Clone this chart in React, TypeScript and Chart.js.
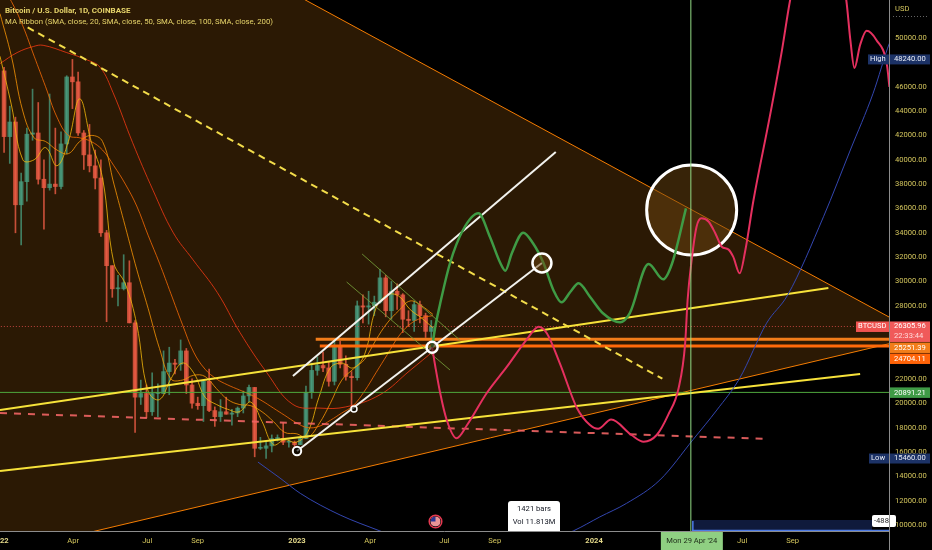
import React, { useEffect, useRef } from 'react';
import { Chart, registerables } from 'chart.js';

Chart.register(...registerables);

const W = 932;
const H = 550;

// ---------- candles (weekly, week start Monday) ----------
const WEEKS = [
  '2022-01-03','2022-01-10','2022-01-17','2022-01-24','2022-01-31','2022-02-07','2022-02-14','2022-02-21','2022-02-28','2022-03-07',
  '2022-03-14','2022-03-21','2022-03-28','2022-04-04','2022-04-11','2022-04-18','2022-04-25','2022-05-02','2022-05-09','2022-05-16',
  '2022-05-23','2022-05-30','2022-06-06','2022-06-13','2022-06-20','2022-06-27','2022-07-04','2022-07-11','2022-07-18','2022-07-25',
  '2022-08-01','2022-08-08','2022-08-15','2022-08-22','2022-08-29','2022-09-05','2022-09-12','2022-09-19','2022-09-26','2022-10-03',
  '2022-10-10','2022-10-17','2022-10-24','2022-10-31','2022-11-07','2022-11-14','2022-11-21','2022-11-28','2022-12-05','2022-12-12',
  '2022-12-19','2022-12-26','2023-01-02','2023-01-09','2023-01-16','2023-01-23','2023-01-30','2023-02-06','2023-02-13','2023-02-20',
  '2023-02-27','2023-03-06','2023-03-13','2023-03-20','2023-03-27','2023-04-03','2023-04-10','2023-04-17','2023-04-24','2023-05-01',
  '2023-05-08','2023-05-15','2023-05-22','2023-05-29','2023-06-05','2023-06-12',
];
const OPEN = [47300,41900,43100,36300,38200,42100,42200,38400,37700,38000,37800,41300,46800,46400,42200,40400,39500,38500,34000,31300,29400,29400,29900,26600,20500,20800,19300,20800,20800,22600,23300,23200,24300,21500,20000,19800,21800,19400,18900,19300,19100,19200,19600,20600,21300,16300,16300,16500,17100,17100,16800,16800,16600,17100,20900,22700,23100,22900,21800,24600,23200,22200,22100,28000,27900,28000,28300,30300,27600,29200,28900,26900,26800,28100,27200,25900];
const HIGH = [47600,44400,43500,38900,42600,45800,44700,40000,45400,42600,42300,46900,48240,47200,42400,42900,40800,40000,34200,31300,30500,32200,31700,26800,21900,21500,22500,21600,24300,24600,23600,25200,24500,22000,20500,21900,22800,19700,20300,20500,19500,19700,21000,21500,21300,17200,16800,17400,17400,18400,17000,16900,17200,21400,23300,23800,24200,23400,25200,25100,23900,22600,28400,28900,29200,28800,31000,30500,30000,29800,29000,27600,28400,28400,27400,26800];
const LOW = [40600,39700,34000,33000,36600,41600,38000,34300,37500,37200,37600,40500,44200,42000,39200,39000,37600,33700,26700,28700,28000,29300,26600,17600,19900,18800,19000,18900,20800,20700,22400,22700,20800,19600,19500,18500,19300,18100,18500,19100,18200,18900,19200,20100,15600,16200,15460,16000,16900,16600,16400,16400,16600,17100,20400,22300,22600,21400,21500,22900,21900,19600,21900,26600,26500,27200,28200,27100,26900,27700,25800,26300,25900,26600,25400,24800];
const CLOSE = [41900,43100,36300,38200,42100,42200,38400,37700,38000,37800,41300,46800,46400,42200,40400,39500,38500,34000,31300,29400,29400,29900,26600,20500,20800,19300,20800,20800,22600,23300,23200,24300,21500,20000,19800,21800,19400,18900,19300,19100,19200,19600,20600,21300,16300,16300,16500,17100,17100,16800,16800,16600,17100,20900,22700,23100,22900,21800,24600,23200,22200,22100,28000,27900,28000,28300,30300,27600,29200,28900,26900,26800,28100,27200,25900,26305.96];

// ---------- MA ribbon (days since 2022-01-01) ----------
const MA_DAYS = [0,14,28,42,56,70,84,98,112,126,140,154,168,182,196,210,224,238,252,266,280,294,308,322,336,350,364,378,392,406,420,434,448,462,476,490,504,518,532];
const SMA20 = [48500,44500,40000,40000,41000,39500,41500,45000,41500,38500,31500,29800,26500,21000,20300,22000,23300,22500,20500,19900,19500,19300,20100,18500,16600,17000,16800,17600,20500,22900,23300,22900,24000,27800,28900,28800,27700,27000,26200];
const SMA50 = [52000,48500,44000,41800,41500,40800,40500,41500,42000,41500,38000,34500,31000,27800,24500,22000,21900,22300,22200,21200,20300,19900,19800,19300,18500,17600,17500,17200,18300,20000,21900,22800,23600,25200,26600,27600,28400,28000,27300];
const SMA100 = [54500,53000,51000,48500,46000,43500,42000,41800,41500,40800,39500,38000,36200,33800,31500,29000,26500,24200,22800,22000,21500,21100,20700,20200,19600,19000,18400,18000,18100,18600,19200,19800,21000,22500,24000,25500,26500,27000,27200];
const SMA200_DAYS = [0,21,41,53,82,107,123,139,163,188,213,237,267,295,328,360,393,425,467,504,535];
const SMA200 = [47900,48800,49300,49400,48800,48200,47600,45500,41400,37500,34000,31800,29100,25800,22500,19900,19600,19700,20700,22700,24400];

// ---------- drawings (day, price) ----------
const TRI_UPPER_DAYS = [-20, 1100];
const TRI_UPPER = [67470, 26813];
const TRI_LOWER_DAYS = [-20, 1100];
const TRI_LOWER = [7339, 25006];

const YEL_DASH_DAYS = [34, 814];
const YEL_DASH = [50871, 22016];
const YEL_UP_DAYS = [0, 1018];
const YEL_UP = [19446, 29466];
const YEL_LOW_DAYS = [0, 1057];
const YEL_LOW = [14435, 22403];
const RED_DASH_DAYS = [0, 944];
const RED_DASH = [19199, 17064];
const WHITE_UP_DAYS = [360, 683];
const WHITE_UP = [22238, 40637];
const WHITE_LOW_DAYS = [365, 666];
const WHITE_LOW = [16078, 31520];
const OLIVE_A_DAYS = [445, 565];
const OLIVE_A = [32259, 25195];
const OLIVE_B_DAYS = [426, 553];
const OLIVE_B = [29959, 22731];

const LEVEL_CURRENT = 26305.96;
const LEVEL_ORANGE_1 = 25251.39;
const LEVEL_ORANGE_2 = 24704.11;
const LEVEL_GREEN = 20891.21;
const RAY1_START = 388;
const RAY2_START = 393;
const HIGH_VALUE = 48240;
const LOW_VALUE = 15460;
const CROSS_DATE = '2024-04-29';

const GREEN_DAYS = [531,535,541,553,569,588,602,615,621,629,643,655,668,680,690,701,711,725,741,762,774,797,815,826,843];
const GREEN_VALS = [24600,26300,28210,31500,34230,35600,33680,31500,30890,32320,34010,33140,31500,29300,28290,29160,29850,28750,27390,26650,27410,31440,30180,31500,36010];

const RED_DAYS = [531,535,541,549,561,574,598,623,647,662,672,688,709,725,735,751,776,791,807,821,834,842,845,850,856,862,871,879,887,895,901,909,916,926,946,961,971,1005,1040,1045,1050,1057,1065,1077,1090,1093];
const RED_VALS = [24600,23000,20820,18620,17120,18210,20820,23000,25200,26290,25750,23280,19610,18210,17900,18660,17390,16840,17390,19030,21250,24920,28480,31770,34500,35190,34910,33960,32860,32640,32040,30670,32590,36690,43540,49010,53120,62980,53120,49840,47540,49430,50600,49840,47780,45980];

const BLUE_DAYS = [317,344,369,418,467,585,705,737,770,811,852,881,909,942,968,1012,1045,1073,1093,1110];
const BLUE_VALS = [15170,13860,12600,10820,9510,6500,9530,10660,11780,13700,17040,19450,22050,26570,28890,35320,40800,45460,49570,52000];

const CIRCLE_DAYS = [850, 666, 531, 365, 435];
const CIRCLE_VALS = [35873, 31520, 24600, 16078, 19528];

// ---------- axes ----------
const X_TICKS = ['2022-01-01','2022-04-01','2022-07-01','2022-09-01','2023-01-01','2023-04-01','2023-07-01','2023-09-01','2024-01-01','2024-07-01','2024-09-01'];
const X_TICK_LABELS = ['2022','Apr','Jul','Sep','2023','Apr','Jul','Sep','2024','Jul','Sep'];
const Y_TICKS = [10000,12000,14000,16000,18000,20000,22000,28000,30000,32000,34000,36000,38000,40000,42000,44000,46000,48000,50000];

const X_MIN = 0;
const X_MAX = 1092.5;
const Y_MIN = 9507;
const Y_MAX = 53121;

const dayOf = (s: string) =>
  (Date.UTC(+s.slice(0, 4), +s.slice(5, 7) - 1, +s.slice(8, 10)) - Date.UTC(2022, 0, 1)) / 86400000;

const pts = (xs: number[], ys: number[]) => xs.map((x, i) => ({ x, y: ys[i] }));

const FONT = '7.6px Roboto, "Liberation Sans", sans-serif';
const FONT_B = 'bold 7.6px Roboto, "Liberation Sans", sans-serif';
const AXIS_TEXT = '#d2c45c';

function tag(c: CanvasRenderingContext2D, x: number, y: number, w: number, h: number, bg: string) {
  c.fillStyle = bg;
  c.fillRect(x, y, w, h);
}

const overlay = {
  id: 'overlay',
  beforeDraw(chart: any) {
    const c = chart.ctx as CanvasRenderingContext2D;
    c.save();
    c.fillStyle = '#000';
    c.fillRect(0, 0, chart.width, chart.height);
    c.restore();
  },
  afterDraw(chart: any) {
    const c = chart.ctx as CanvasRenderingContext2D;
    const xs = chart.scales.x;
    const ys = chart.scales.y;
    const a = chart.chartArea;
    c.save();

    // bottom measurement box
    const xCross = xs.getPixelForValue(dayOf(CROSS_DATE));
    c.fillStyle = 'rgba(20,35,80,0.75)';
    c.fillRect(xCross + 1, a.bottom - 11, a.right - xCross - 18, 11);
    c.strokeStyle = '#4d7be6';
    c.lineWidth = 1.5;
    c.beginPath();
    c.moveTo(xCross + 1, a.bottom - 0.5);
    c.lineTo(a.right, a.bottom - 0.5);
    c.moveTo(xCross + 2, a.bottom - 10);
    c.lineTo(xCross + 2, a.bottom);
    c.stroke();
    c.fillStyle = '#ffffff';
    c.beginPath();
    (c as any).roundRect(a.right - 17, a.bottom - 16, 24, 12, 2);
    c.fill();
    c.save();
    c.beginPath();
    c.rect(0, 0, a.right, H);
    c.clip();
    c.fillStyle = '#222';
    c.font = FONT;
    c.textAlign = 'left';
    c.textBaseline = 'middle';
    c.fillText('-488', a.right - 15, a.bottom - 10);
    c.restore();

    // 1421 bars box
    c.fillStyle = '#ffffff';
    c.beginPath();
    (c as any).roundRect(508, a.bottom - 30, 52, 30, [3, 3, 0, 0]);
    c.fill();
    c.fillStyle = '#131722';
    c.font = FONT;
    c.textAlign = 'center';
    c.textBaseline = 'middle';
    c.fillText('1421 bars', 534, a.bottom - 22);
    c.fillText('Vol 11.813M', 534, a.bottom - 8.5);

    // flag icon
    const fx = 435.5, fy = 521.5;
    c.save();
    c.beginPath();
    c.arc(fx, fy, 5, 0, Math.PI * 2);
    c.clip();
    c.fillStyle = '#ffffff';
    c.fillRect(fx - 5, fy - 5, 10, 10);
    c.fillStyle = '#d32f2f';
    for (let k = 0; k < 5; k++) c.fillRect(fx - 5, fy - 5 + k * 2, 10, 1);
    c.fillStyle = '#283593';
    c.fillRect(fx - 5, fy - 5, 5, 5);
    c.restore();
    c.strokeStyle = '#e53950';
    c.lineWidth = 1.5;
    c.beginPath();
    c.arc(fx, fy, 6.3, 0, Math.PI * 2);
    c.stroke();

    // axis lines
    c.strokeStyle = '#8c8c8c';
    c.lineWidth = 1;
    c.beginPath();
    c.moveTo(a.right + 0.5, 0);
    c.lineTo(a.right + 0.5, H);
    c.moveTo(0, a.bottom + 0.5);
    c.lineTo(a.right, a.bottom + 0.5);
    c.stroke();

    // y tick labels
    c.font = FONT;
    c.fillStyle = AXIS_TEXT;
    c.textAlign = 'left';
    c.textBaseline = 'middle';
    for (const v of Y_TICKS) c.fillText(v.toFixed(2), a.right + 6, ys.getPixelForValue(v));
    c.fillText('USD', a.right + 6, 9);
    c.strokeStyle = 'rgba(200,200,200,0.5)';
    c.setLineDash([1, 2]);
    c.beginPath();
    c.moveTo(a.right + 4, 16.5);
    c.lineTo(W - 4, 16.5);
    c.stroke();
    c.setLineDash([]);

    // x tick labels
    c.textAlign = 'center';
    X_TICKS.forEach((d, i) => {
      const lbl = X_TICK_LABELS[i];
      c.font = /^\d{4}$/.test(lbl) ? FONT_B : FONT;
      c.fillStyle = /^\d{4}$/.test(lbl) ? '#e4d98a' : AXIS_TEXT;
      c.fillText(lbl, xs.getPixelForValue(dayOf(d)), a.bottom + 10.5);
    });

    // crosshair date label
    c.fillStyle = '#8fcf82';
    c.fillRect(xCross - 30, a.bottom + 1, 62, 18);
    c.fillStyle = '#1d2b18';
    c.font = FONT;
    c.fillText("Mon 29 Apr '24", xCross + 1, a.bottom + 10.5);

    // price tags
    const vx = a.right + 1;
    const vw = W - vx - 2;
    c.textAlign = 'left';

    const yHigh = ys.getPixelForValue(HIGH_VALUE);
    tag(c, a.right - 21, yHigh - 5, 21, 10, '#1c3266');
    tag(c, vx, yHigh - 5, vw, 10, '#1c3266');
    c.fillStyle = '#e8ecf5';
    c.fillText('High', a.right - 19, yHigh);
    c.fillText(HIGH_VALUE.toFixed(2), a.right + 5, yHigh);

    const yLow = ys.getPixelForValue(LOW_VALUE);
    tag(c, a.right - 20, yLow - 5, 20, 10, '#1c3266');
    tag(c, vx, yLow - 5, vw, 10, '#1c3266');
    c.fillStyle = '#e8ecf5';
    c.fillText('Low', a.right - 18, yLow);
    c.fillText(LOW_VALUE.toFixed(2), a.right + 5, yLow);

    const yC = ys.getPixelForValue(LEVEL_CURRENT);
    tag(c, a.right - 33, yC - 5, 33, 10.5, '#ef5350');
    tag(c, vx, yC - 5, vw, 20.5, '#f05a5a');
    c.fillStyle = '#ffffff';
    c.fillText('BTCUSD', a.right - 31, yC);
    c.fillText(LEVEL_CURRENT.toFixed(2), a.right + 5, yC);
    c.fillStyle = '#ffd9d9';
    c.fillText('22:33:44', a.right + 5, yC + 10);

    tag(c, vx, yC + 16, vw, 10.5, '#f27d1a');
    c.fillStyle = '#ffffff';
    c.fillText(LEVEL_ORANGE_1.toFixed(2), a.right + 5, yC + 21.3);
    tag(c, vx, yC + 27, vw, 10.5, '#ff6308');
    c.fillStyle = '#ffffff';
    c.fillText(LEVEL_ORANGE_2.toFixed(2), a.right + 5, yC + 32.3);

    const yG = ys.getPixelForValue(LEVEL_GREEN);
    tag(c, vx, yG - 5, vw, 10.5, '#3f9a46');
    c.fillStyle = '#ffffff';
    c.fillText(LEVEL_GREEN.toFixed(2), a.right + 5, yG + 0.3);

    // header
    c.fillStyle = '#e6d46a';
    c.font = 'bold 8px Roboto, "Liberation Sans", sans-serif';
    c.fillText('Bitcoin / U.S. Dollar, 1D, COINBASE', 5, 11);
    c.font = '7.8px Roboto, "Liberation Sans", sans-serif';
    c.fillText('MA Ribbon (SMA, close, 20, SMA, close, 50, SMA, close, 100, SMA, close, 200)', 5, 22.5);

    c.restore();
  },
};

export default function App() {
  const ref = useRef<HTMLCanvasElement | null>(null);

  useEffect(() => {
    document.body.style.margin = '0';
    document.body.style.background = '#000';
    const canvas = ref.current;
    if (!canvas) return;

    const centers = WEEKS.map((w) => dayOf(w) + 3);
    const up = 'rgba(38,166,154,0.75)';
    const dn = 'rgba(239,83,80,0.8)';
    const colors = OPEN.map((o, i) => (CLOSE[i] >= o ? up : dn));

    const line = (data: any[], color: string, width: number, order: number, extra: any = {}) => ({
      type: 'line',
      data,
      borderColor: color,
      borderWidth: width,
      pointRadius: 0,
      fill: false,
      tension: 0,
      order,
      ...extra,
    });

    const datasets: any[] = [
      {
        type: 'bar',
        data: centers.map((x, i) => ({ x, y: [LOW[i], HIGH[i]] })),
        backgroundColor: colors,
        barThickness: 1,
        grouped: false,
        order: 100,
      },
      {
        type: 'bar',
        data: centers.map((x, i) => ({ x, y: [OPEN[i], CLOSE[i]] })),
        backgroundColor: colors,
        barThickness: 4,
        minBarLength: 1,
        grouped: false,
        order: 99,
      },
      line(pts(MA_DAYS, SMA20), 'rgba(246,195,9,0.8)', 1, 90, { tension: 0.4 }),
      line(pts(MA_DAYS, SMA50), 'rgba(251,152,0,0.8)', 1, 90, { tension: 0.4 }),
      line(pts(MA_DAYS, SMA100), 'rgba(251,101,0,0.8)', 1, 90, { tension: 0.4 }),
      line(pts(SMA200_DAYS, SMA200), 'rgba(246,40,20,0.8)', 1, 90, { tension: 0.4 }),
      line(pts(TRI_UPPER_DAYS, TRI_UPPER), '#f57c00', 1, 80, {
        fill: '+1',
        backgroundColor: 'rgba(240,140,20,0.18)',
      }),
      line(pts(TRI_LOWER_DAYS, TRI_LOWER), '#f57c00', 1, 80),
      line(pts([-10, 1100], [LEVEL_CURRENT, LEVEL_CURRENT]), 'rgba(239,83,80,0.75)', 1, 75, { borderDash: [1, 2] }),
      line(pts([-10, 1100], [LEVEL_GREEN, LEVEL_GREEN]), '#4fa83d', 1, 70),
      line(pts([RAY1_START, 1100], [LEVEL_ORANGE_1, LEVEL_ORANGE_1]), '#f27d1a', 3, 70),
      line(pts([RAY2_START, 1100], [LEVEL_ORANGE_2, LEVEL_ORANGE_2]), '#ff6a0a', 3, 70),
      line(pts(YEL_UP_DAYS, YEL_UP), '#f7e23a', 2, 60),
      line(pts(YEL_LOW_DAYS, YEL_LOW), '#f7e23a', 2, 60),
      line(pts(RED_DASH_DAYS, RED_DASH), 'rgba(240,100,100,0.9)', 2, 60, { borderDash: [7, 7] }),
      line(pts(YEL_DASH_DAYS, YEL_DASH), '#f3dc4a', 2, 60, { borderDash: [7, 5] }),
      line(pts(OLIVE_A_DAYS, OLIVE_A), 'rgba(120,165,60,0.8)', 1, 55),
      line(pts(OLIVE_B_DAYS, OLIVE_B), 'rgba(120,165,60,0.8)', 1, 55),
      line(pts(WHITE_UP_DAYS, WHITE_UP), '#f2f2ee', 2, 55),
      line(pts(WHITE_LOW_DAYS, WHITE_LOW), '#f2f2ee', 2, 55),
      line(pts(BLUE_DAYS, BLUE_VALS), '#3346b0', 1, 50, { cubicInterpolationMode: 'monotone' }),
      {
        type: 'line',
        data: [{ x: CIRCLE_DAYS[0], y: CIRCLE_VALS[0] }],
        showLine: false,
        pointRadius: 45,
        pointBorderWidth: 3,
        pointBorderColor: '#ffffff',
        pointBackgroundColor: 'rgba(110,70,15,0.5)',
        order: 45,
      },
      line(pts(GREEN_DAYS, GREEN_VALS), '#3f9b45', 2.5, 40, { cubicInterpolationMode: 'monotone' }),
      line(pts(RED_DAYS, RED_VALS), '#e5305f', 2, 40, { cubicInterpolationMode: 'monotone' }),
      line(pts([dayOf(CROSS_DATE), dayOf(CROSS_DATE)], [0, 100000]), '#93dc86', 1, 30),
      {
        type: 'line',
        data: pts(CIRCLE_DAYS.slice(1), CIRCLE_VALS.slice(1)),
        showLine: false,
        pointRadius: [9.5, 5.5, 4.2, 3],
        pointBorderWidth: [2.5, 2.5, 2, 1.5],
        pointBorderColor: '#ffffff',
        pointBackgroundColor: ['rgba(110,70,15,0.5)', 'rgba(40,25,5,0.6)', 'rgba(0,0,0,0.6)', 'rgba(0,0,0,0.6)'],
        order: 20,
      },
    ];

    const chart = new Chart(canvas, {
      type: 'line',
      data: { datasets },
      options: {
        responsive: false,
        maintainAspectRatio: false,
        devicePixelRatio: 1,
        animation: false,
        events: [],
        layout: { padding: 0, autoPadding: false },
        plugins: { legend: { display: false }, tooltip: { enabled: false } },
        scales: {
          x: {
            type: 'linear',
            min: X_MIN,
            max: X_MAX,
            offset: false,
            ticks: { display: false },
            grid: { display: false },
            border: { display: false },
            afterFit: (s: any) => {
              s.height = 19;
            },
          },
          y: {
            type: 'linear',
            position: 'right',
            min: Y_MIN,
            max: Y_MAX,
            ticks: { display: false },
            grid: { display: false },
            border: { display: false },
            afterFit: (s: any) => {
              s.width = 43;
            },
          },
        },
      } as any,
      plugins: [overlay],
    } as any);

    return () => chart.destroy();
  }, []);

  return (
    <div style={{ position: 'fixed', left: 0, top: 0, width: W, height: H, background: '#000' }}>
      <canvas ref={ref} width={W} height={H} style={{ width: W, height: H, display: 'block' }} />
    </div>
  );
}
